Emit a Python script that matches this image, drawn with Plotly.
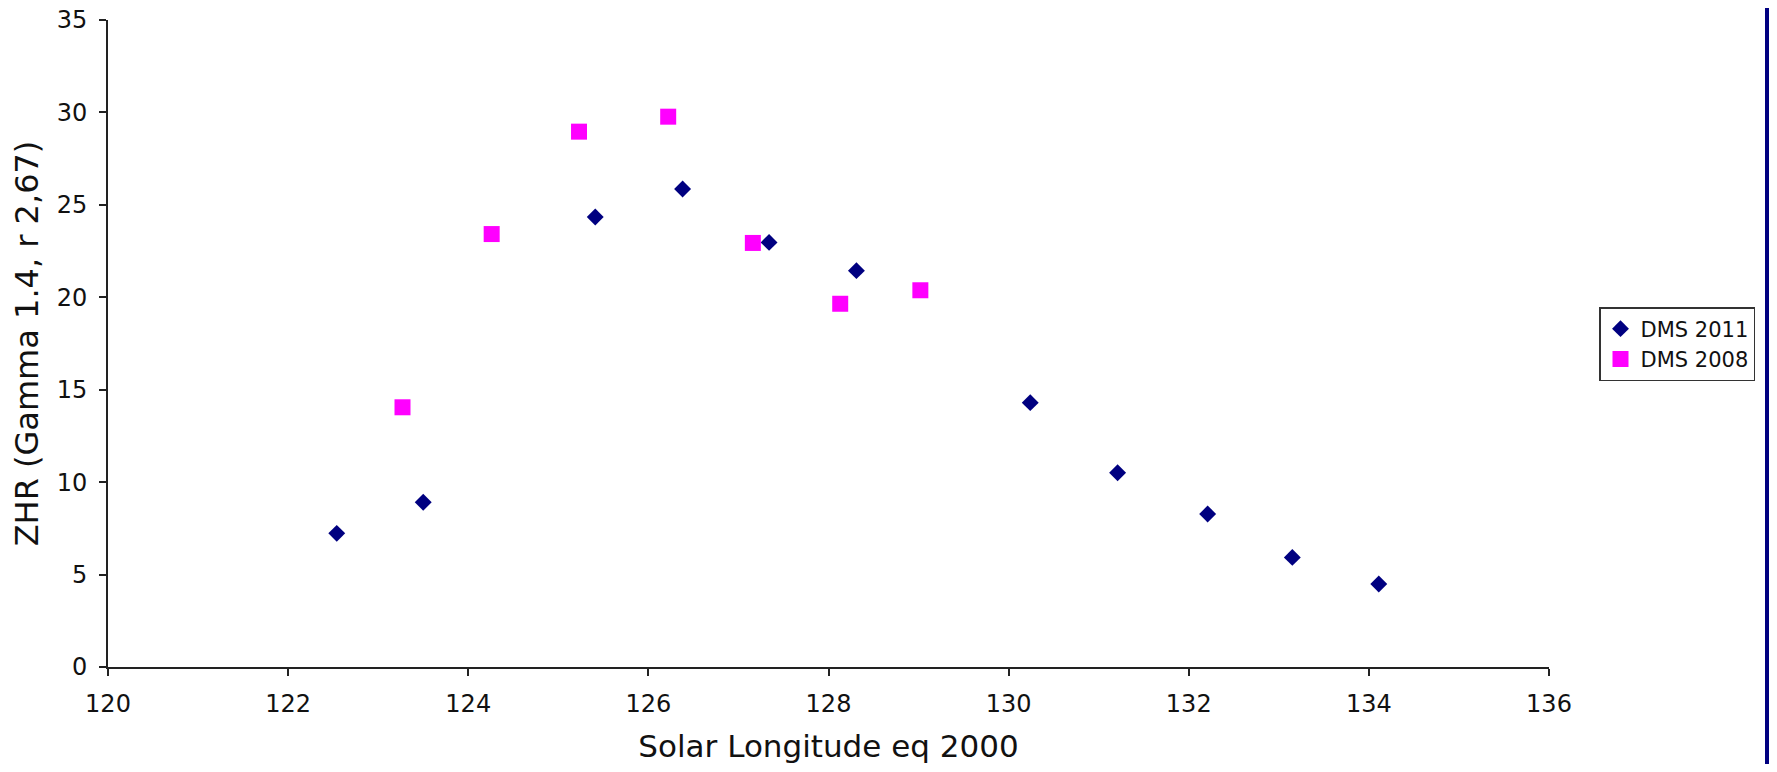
import plotly.graph_objects as go

# Data
dms2011_x = [122.54, 123.50, 125.41, 126.38, 127.34, 128.31, 130.24, 131.21, 132.21, 133.15, 134.11]
dms2011_y = [7.23, 8.91, 24.34, 25.86, 22.97, 21.44, 14.30, 10.51, 8.28, 5.93, 4.49]

dms2008_x = [123.27, 124.26, 125.23, 126.22, 127.16, 128.13, 129.02]
dms2008_y = [14.05, 23.42, 28.96, 29.77, 22.94, 19.65, 20.38]

x_ticks = [120, 122, 124, 126, 128, 130, 132, 134, 136]
y_ticks = [0, 5, 10, 15, 20, 25, 30, 35]

FONT = "DejaVu Sans"
TXT = "#111111"
NAVY = "#000080"

# page body has an 8px margin; visible figure area is 1761 wide
OFF = 8
W, H = 1761, 756
L, T, PW, PH = 100, 12, 1441, 647
R = W - L - PW
B = H - T - PH

fig = go.Figure()
fig.add_trace(go.Scatter(
    x=dms2011_x, y=dms2011_y, mode="markers", name="DMS 2011",
    marker=dict(symbol="diamond", size=13, color=NAVY, line=dict(width=0)),
))
fig.add_trace(go.Scatter(
    x=dms2008_x, y=dms2008_y, mode="markers", name="DMS 2008",
    marker=dict(symbol="square", size=16, color="#FF00FF", line=dict(width=0)),
))

axis_common = dict(
    showgrid=False, zeroline=False, showline=True, linecolor="#222222", linewidth=2,
    ticks="outside", ticklen=7, tickwidth=1.5, tickcolor="#222222",
    tickfont=dict(family=FONT, size=24, color=TXT),
    ticklabeloverflow="allow",
)

fig.update_xaxes(
    range=[120, 136], tickvals=x_ticks, ticktext=[str(v) for v in x_ticks],
    title=dict(text="Solar Longitude eq 2000", font=dict(family=FONT, size=31, color=TXT), standoff=22),
    ticklabelstandoff=7,
    **axis_common,
)
fig.update_yaxes(
    range=[0, 35], tickvals=y_ticks, ticktext=[str(v) for v in y_ticks],
    title=dict(text="ZHR (Gamma 1.4, r 2,67)", font=dict(family=FONT, size=32, color=TXT), standoff=12),
    ticklabelstandoff=7,
    **axis_common,
)

# navy strip along the right edge of the figure
strip_x0 = (W - 4 - L) / PW
fig.update_layout(
    width=W, height=H,
    margin=dict(l=L, r=R, t=T, b=B, autoexpand=False),
    plot_bgcolor="white", paper_bgcolor="white",
    font=dict(family=FONT, color=TXT),
    showlegend=True,
    legend=dict(
        x=(1599 - OFF - L) / PW, y=1 - (307 - OFF - T) / PH, xanchor="left", yanchor="top",
        bgcolor="white", bordercolor="#333333", borderwidth=1.5,
        font=dict(family=FONT, size=21, color=TXT),
        traceorder="normal",
        itemwidth=30,
    ),
    shapes=[dict(
        type="rect", xref="paper", yref="paper",
        x0=strip_x0, x1=strip_x0 + 20 / PW, y0=-B / PH - 0.05, y1=1 + T / PH + 0.05,
        fillcolor=NAVY, line=dict(width=0), layer="above",
    )],
)

fig.write_html("out.html")
